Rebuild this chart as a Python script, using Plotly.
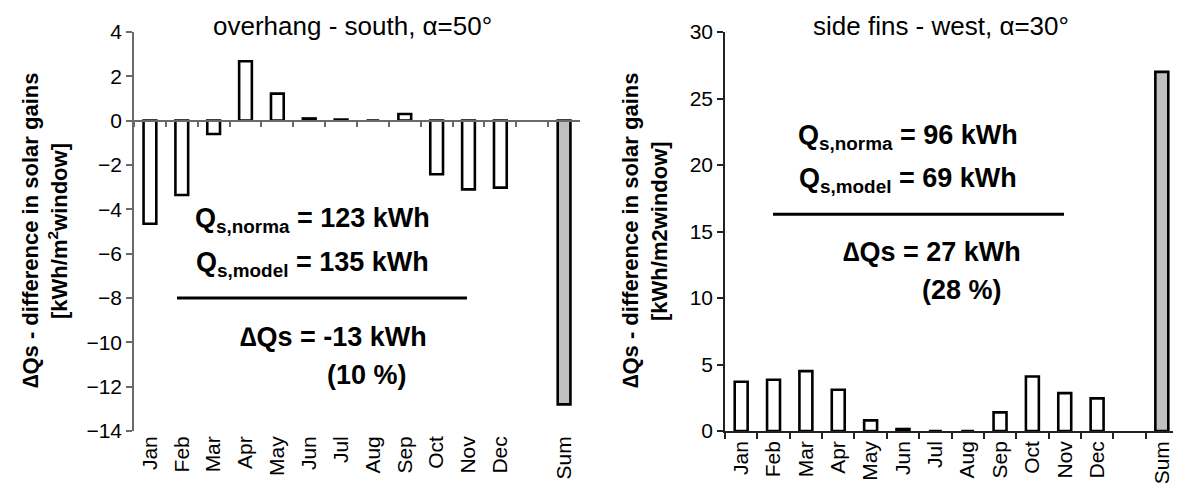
import plotly.graph_objects as go

# ---- data ----
categories = ["Jan", "Feb", "Mar", "Apr", "May", "Jun", "Jul", "Aug", "Sep", "Oct", "Nov", "Dec", " ", "Sum"]
south_overhang = [-4.65, -3.35, -0.6, 2.68, 1.22, 0.1, 0.05, 0.0, 0.3, -2.42, -3.1, -3.02, None, -12.8]
west_sidefins = [3.7, 3.85, 4.5, 3.1, 0.8, 0.15, 0.0, 0.0, 1.4, 4.1, 2.85, 2.45, None, 27.0]
left_ticks = list(range(-14, 5, 2))
right_ticks = list(range(0, 31, 5))

# page body has an 8px default margin; figure sized so it fits the window exactly
OFF = 8
W, H = 1181 - OFF, 489 - OFF
FONT = "Liberation Sans, Arial, sans-serif"


def px(x):
    return (x - OFF) / W


def py(y):
    return 1 - (y - OFF) / H


y_dom = [py(431), py(32)]
xl_dom = [px(134), px(580)]
xr_dom = [px(725), px(1178)]

fill_l = ["#c0c0c0" if c == "Sum" else "white" for c in categories]

fig = go.Figure()
fig.add_trace(go.Bar(x=categories, y=south_overhang, marker=dict(color=fill_l, line=dict(color="black", width=2.6)),
                     xaxis="x", yaxis="y", showlegend=False, hoverinfo="skip"))
fig.add_trace(go.Bar(x=categories, y=west_sidefins, marker=dict(color=fill_l, line=dict(color="black", width=2.6)),
                     xaxis="x2", yaxis="y2", showlegend=False, hoverinfo="skip"))
# invisible helper trace so the zero-line category axis gets its ticks
fig.add_trace(go.Scatter(x=categories, y=[0] * len(categories), mode="markers", marker=dict(opacity=0),
                         xaxis="x3", yaxis="y", showlegend=False, hoverinfo="skip"))

ymin, ymax = -14, 4
zero_frac = y_dom[0] + (0 - ymin) / (ymax - ymin) * (y_dom[1] - y_dom[0])

tickfont = dict(family=FONT, size=21, color="black")
axis_gray = "#6a6a6a"

fig.update_layout(
    template="none",
    width=W, height=H,
    margin=dict(l=0, r=0, t=0, b=0, pad=0),
    paper_bgcolor="white", plot_bgcolor="white",
    bargap=0.6,
    font=dict(family=FONT, color="black"),
    xaxis=dict(domain=xl_dom, anchor="y", type="category", categoryorder="array", categoryarray=categories,
               range=[-0.5, 13.5], showline=False, ticks="", tickangle=-90, tickfont=tickfont,
               showgrid=False, zeroline=False, automargin=False),
    xaxis3=dict(overlaying="x", anchor="free", position=zero_frac, type="category", categoryorder="array",
                categoryarray=categories, range=[-0.5, 13.5], showline=True, linecolor=axis_gray, linewidth=1.5,
                ticks="outside", ticklen=6, tickcolor=axis_gray, tickwidth=1.5, tickson="boundaries",
                showticklabels=False, showgrid=False, zeroline=False, automargin=False),
    yaxis=dict(domain=y_dom, anchor="x", range=[ymin, ymax], tickvals=left_ticks, showline=True,
               linecolor=axis_gray, linewidth=1.5, ticks="outside", ticklen=6, tickcolor=axis_gray, tickwidth=1.5,
               tickfont=tickfont, showgrid=False, zeroline=False, automargin=False),
    xaxis2=dict(domain=xr_dom, anchor="y2", type="category", categoryorder="array", categoryarray=categories,
                range=[-0.5, 13.5], showline=True, linecolor="#222", linewidth=1.5, ticks="outside", ticklen=6,
                tickcolor="#222", tickwidth=1.5, tickson="boundaries", tickangle=-90, tickfont=tickfont,
                showgrid=False, zeroline=False, automargin=False),
    yaxis2=dict(domain=y_dom, anchor="x2", range=[0, 30], tickvals=right_ticks, showline=True, linecolor="#222",
                linewidth=1.5, ticks="outside", ticklen=6, tickcolor="#222", tickwidth=1.5, tickfont=tickfont,
                showgrid=False, zeroline=False, automargin=False),
)

ann = []
bold = dict(family=FONT, size=27, color="black")


def add_text(text, x, y, font, angle=0):
    ann.append(dict(text=text, x=px(x), y=py(y), xref="paper", yref="paper", showarrow=False,
                    xanchor="center", yanchor="middle", font=font, textangle=angle))


# titles
title_font = dict(family=FONT, size=26, color="black")
add_text("overhang - south, α=50°", 352, 26, title_font)
add_text("side fins - west, α=30°", 941, 26, title_font)

# y-axis titles
yt_font = dict(family=FONT, size=22, color="black")
add_text("<b>∆Qs - difference in solar gains</b>", 30, 231, yt_font, -90)
add_text("<b>[kWh/m<sup>2</sup>window]</b>", 58, 231, yt_font, -90)
add_text("<b>∆Qs - difference in solar gains</b>", 630, 231, yt_font, -90)
add_text("<b>[kWh/m2window]</b>", 659, 231, yt_font, -90)

# in-plot notes
add_text("<b>Q<sub>s,norma</sub> = 123 kWh</b>", 312, 220, bold)
add_text("<b>Q<sub>s,model</sub> = 135 kWh</b>", 312, 264, bold)
add_text("<b>∆Qs = -13 kWh</b>", 333, 337, bold)
add_text("<b>(10 %)</b>", 367, 375, bold)
add_text("<b>Q<sub>s,norma</sub> = 96 kWh</b>", 908, 137, bold)
add_text("<b>Q<sub>s,model</sub> = 69 kWh</b>", 908, 180, bold)
add_text("<b>∆Qs = 27 kWh</b>", 932, 252, bold)
add_text("<b>(28 %)</b>", 962, 290, bold)

fig.update_layout(annotations=ann)

fig.add_shape(type="line", xref="paper", yref="y", x0=px(177), x1=px(467), y0=-8, y1=-8,
              line=dict(color="black", width=3))
fig.add_shape(type="line", xref="paper", yref="y2", x0=px(773), x1=px(1064), y0=16.3, y1=16.3,
              line=dict(color="black", width=3))

fig.write_html("out.html")
